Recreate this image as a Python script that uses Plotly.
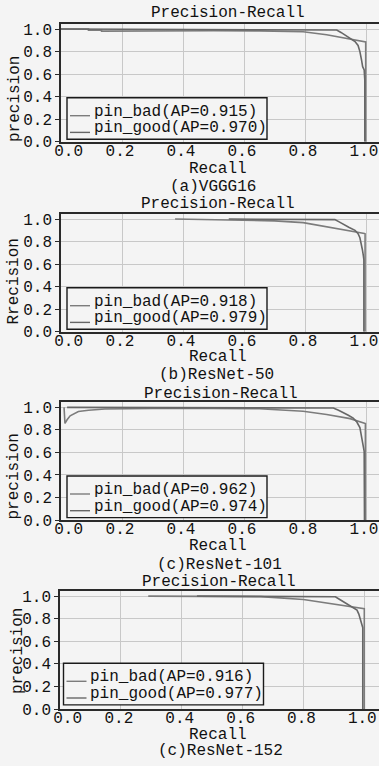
import plotly.graph_objects as go

# ---------------- data ----------------
panel_titles = ["Precision-Recall", "Precision-Recall", "Precision-Recall", "Precision-Recall"]
captions = ["(a)VGGG16", "(b)ResNet-50", "(c)ResNet-101", "(c)ResNet-152"]
ylabels = ["precision", "Rrecision", "precision", "precision"]
xlabel = "Recall"
tick_vals = [0.0, 0.2, 0.4, 0.6, 0.8, 1.0]
x_tick_text = ["\u00a0\u00a00.0", "0.2", "0.4", "0.6", "0.8", "1.0"]
y_tick_text = ["0.0", "0.2", "0.4", "0.6", "0.8", "1.0"]

bad_names = ["pin_bad(AP=0.915)", "pin_bad(AP=0.918)", "pin_bad(AP=0.962)", "pin_bad(AP=0.916)"]
good_names = ["pin_good(AP=0.970)", "pin_good(AP=0.979)", "pin_good(AP=0.974)", "pin_good(AP=0.977)"]

# (a) VGG16
vgg_bad_recall = [0.0, 0.09, 0.09, 0.133, 0.133, 0.3, 0.5, 0.65, 0.794, 0.871, 0.948, 0.98, 0.997, 0.999, 0.999]
vgg_bad_precision = [1.0, 1.0, 0.991, 0.991, 0.982, 0.985, 0.985, 0.984, 0.976, 0.949, 0.91, 0.898, 0.889, 0.886, 0.0]
vgg_good_recall = [0.0, 0.3, 0.6, 0.8, 0.904, 0.918, 0.931, 0.948, 0.964, 0.974, 0.980, 0.985, 0.989, 0.994, 0.996, 0.996]
vgg_good_precision = [1.0, 0.998, 0.996, 0.994, 0.992, 0.97, 0.949, 0.92, 0.889, 0.855, 0.80, 0.73, 0.666, 0.637, 0.55, 0.0]

# (b) ResNet-50
r50_bad_recall = [0.374, 0.5, 0.6, 0.7, 0.794, 0.871, 0.948, 0.98, 0.995, 0.997, 0.997]
r50_bad_precision = [1.0, 0.996, 0.99, 0.984, 0.968, 0.932, 0.90, 0.884, 0.872, 0.87, 0.0]
r50_good_recall = [0.55, 0.7, 0.8, 0.898, 0.912, 0.926, 0.945, 0.964, 0.974, 0.980, 0.985, 0.988, 0.991, 0.993, 0.993]
r50_good_precision = [1.0, 0.998, 0.997, 0.995, 0.975, 0.952, 0.925, 0.90, 0.87, 0.834, 0.78, 0.73, 0.68, 0.64, 0.0]

# (c) ResNet-101
r101_bad_recall = [0.01, 0.012, 0.013, 0.02, 0.03, 0.057, 0.09, 0.144, 0.2, 0.3, 0.5, 0.65, 0.794, 0.871, 0.948, 0.98, 0.995, 0.998, 0.998]
r101_bad_precision = [1.0, 0.93, 0.857, 0.89, 0.925, 0.963, 0.975, 0.985, 0.988, 0.99, 0.99, 0.988, 0.966, 0.937, 0.90, 0.877, 0.86, 0.857, 0.0]
r101_good_recall = [0.02, 0.3, 0.6, 0.8, 0.893, 0.91, 0.926, 0.942, 0.958, 0.97, 0.98, 0.989, 0.994, 0.995]
r101_good_precision = [1.0, 0.999, 0.998, 0.996, 0.994, 0.975, 0.955, 0.93, 0.904, 0.87, 0.82, 0.70, 0.61, 0.0]

# (c) ResNet-152
r152_bad_recall = [0.29, 0.4, 0.5, 0.66, 0.80, 0.877, 0.954, 0.987, 1.0, 1.0]
r152_bad_precision = [1.0, 0.998, 0.997, 0.995, 0.97, 0.94, 0.91, 0.897, 0.888, 0.0]
r152_good_recall = [0.45, 0.6, 0.8, 0.905, 0.918, 0.932, 0.96, 0.976, 0.982, 0.987, 0.992, 0.995, 0.995]
r152_good_precision = [1.0, 0.998, 0.996, 0.994, 0.972, 0.95, 0.905, 0.876, 0.84, 0.786, 0.74, 0.72, 0.0]

series = [
    (vgg_bad_recall, vgg_bad_precision, vgg_good_recall, vgg_good_precision),
    (r50_bad_recall, r50_bad_precision, r50_good_recall, r50_good_precision),
    (r101_bad_recall, r101_bad_precision, r101_good_recall, r101_good_precision),
    (r152_bad_recall, r152_bad_precision, r152_good_recall, r152_good_precision),
]

# ---------------- layout (pixels) ----------------
W, H = 379, 766
FONT = "Liberation Mono, DejaVu Sans Mono, monospace"
TXT = "#111111"
BG = "#f4f4f4"
BAD_COLOR = "#7c7c7c"
GOOD_COLOR = "#676767"

def fx(px):
    return px / W

def fy(py):
    return 1 - py / H

panels = [
    dict(top=24.0, bottom=141.7, left=61.0, ppu=305.0, title_x=227.5, title_y=13.5, ylab_x=15, ylab_y=99,
         rec_y=169, cap_x=212.5, cap_y=187, leg_x=67, leg_y=97.7),
    dict(top=214.0, bottom=331.7, left=61.0, ppu=305.0, title_x=217.5, title_y=204, ylab_x=13.5, ylab_y=282,
         rec_y=357, cap_x=216, cap_y=375, leg_x=67, leg_y=287.7),
    dict(top=402.3, bottom=520.0, left=61.0, ppu=305.0, title_x=221, title_y=393.5, ylab_x=13.5, ylab_y=477,
         rec_y=546, cap_x=219, cap_y=565, leg_x=67, leg_y=476),
    dict(top=591.0, bottom=709.0, left=60.0, ppu=304.3, title_x=219, title_y=581.5, ylab_x=18, ylab_y=651,
         rec_y=734.5, cap_x=220, cap_y=751, leg_x=63.5, leg_y=663.3),
]

fig = go.Figure()
annotations = []
shapes = []
layout_axes = {}

def txt(text, x, y, xanchor="center", angle=0):
    return dict(text=text, x=fx(x), y=fy(y), xref="paper", yref="paper",
                showarrow=False, xanchor=xanchor, yanchor="middle", textangle=angle,
                font=dict(family=FONT, size=16, color=TXT))

for i, (p, s) in enumerate(zip(panels, series)):
    n = "" if i == 0 else str(i + 1)
    xa, ya = "x" + n, "y" + n
    br, bp, gr, gp = s
    fig.add_trace(go.Scatter(x=br, y=bp, mode="lines", name=bad_names[i],
                             line=dict(color=BAD_COLOR, width=1.6),
                             xaxis=xa, yaxis=ya, showlegend=False))
    fig.add_trace(go.Scatter(x=gr, y=gp, mode="lines", name=good_names[i],
                             line=dict(color=GOOD_COLOR, width=1.6),
                             xaxis=xa, yaxis=ya, showlegend=False))
    xmax = (W - p["left"]) / p["ppu"]
    layout_axes["xaxis" + n] = dict(
        domain=[fx(p["left"]), 1.0], range=[0, xmax], anchor=ya, automargin=False,
        tickvals=tick_vals, ticktext=x_tick_text, ticks="", showgrid=True,
        gridcolor="#c8c8c8", gridwidth=1, zeroline=False,
        showline=True, linecolor="#2a2a2a", linewidth=1.5, mirror=True,
        tickfont=dict(family=FONT, size=16, color=TXT), ticklabelstandoff=-7,
        ticklabelshift=-2, ticklabeloverflow="allow",
    )
    layout_axes["yaxis" + n] = dict(
        domain=[fy(p["bottom"]), fy(p["top"])], range=[0, 1.045], anchor=xa, automargin=False,
        tickvals=tick_vals, ticktext=y_tick_text, ticks="outside", ticklen=4,
        tickcolor="#2a2a2a", showgrid=True, gridcolor="#c8c8c8", gridwidth=1,
        zeroline=False, showline=True, linecolor="#2a2a2a", linewidth=1.5,
        tickfont=dict(family=FONT, size=16, color=TXT), ticklabeloverflow="allow",
    )
    # legend box (drawn as layout shapes + text)
    lx, ly = p["leg_x"], p["leg_y"]
    shapes.append(dict(type="rect", xref="paper", yref="paper",
                       x0=fx(lx), x1=fx(lx + 200), y0=fy(ly + 41.6), y1=fy(ly),
                       fillcolor=BG, line=dict(color="#1a1a1a", width=1.4), layer="above"))
    for row, (name, col) in enumerate([(bad_names[i], BAD_COLOR), (good_names[i], GOOD_COLOR)]):
        ry = ly + 14.0 + row * 16.7
        shapes.append(dict(type="line", xref="paper", yref="paper",
                           x0=fx(lx + 3), x1=fx(lx + 23), y0=fy(ry + 4), y1=fy(ry + 4),
                           line=dict(color=col, width=1.4), layer="above"))
        annotations.append(txt(name, lx + 24.5, ry, xanchor="left"))
    annotations += [
        txt(panel_titles[i], p["title_x"], p["title_y"]),
        txt(ylabels[i], p["ylab_x"], p["ylab_y"], angle=-90),
        txt(xlabel, 217.5, p["rec_y"]),
        txt(captions[i], p["cap_x"], p["cap_y"]),
    ]

fig.update_layout(
    template="none",
    width=W, height=H, margin=dict(l=0, r=0, t=0, b=0, pad=0),
    paper_bgcolor=BG, plot_bgcolor=BG, showlegend=False,
    annotations=annotations, shapes=shapes, **layout_axes,
)

fig.write_html("out.html", config={"displayModeBar": False},
               post_script="document.body.style.margin='0px';")
